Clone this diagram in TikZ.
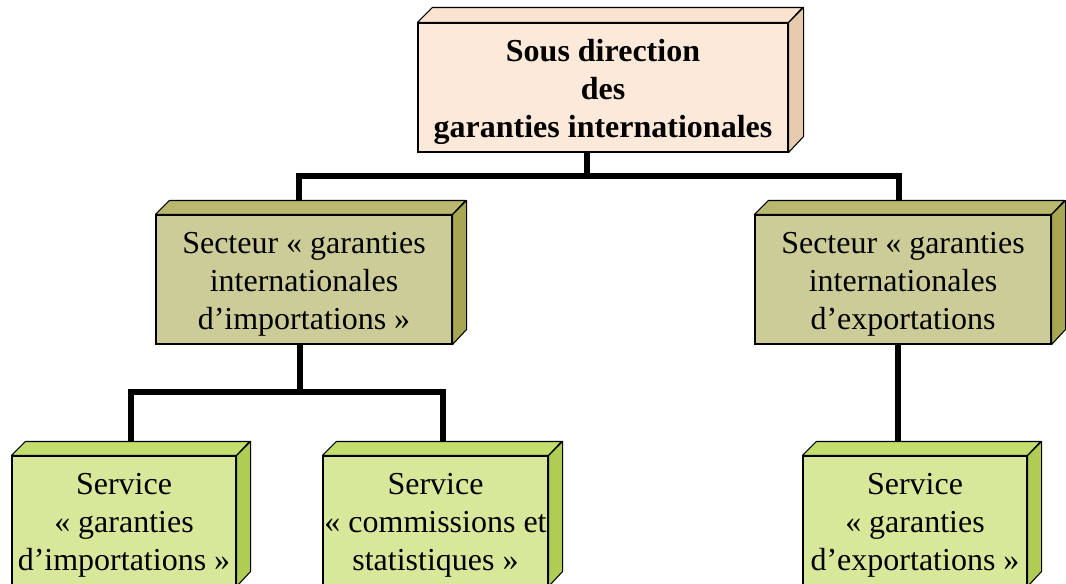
\documentclass[tikz,border=0pt]{standalone}
\usepackage{fontspec}
\setmainfont{Liberation Serif}
\usetikzlibrary{backgrounds}
\definecolor{pfront}{HTML}{FDE9D9}
\definecolor{ptop}{HTML}{FBE3D0}
\definecolor{pside}{HTML}{E7CBAE}
\definecolor{ofront}{HTML}{CCCC99}
\definecolor{otop}{HTML}{B8B86F}
\definecolor{oside}{HTML}{A6A653}
\definecolor{gfront}{HTML}{D7E89B}
\definecolor{gtop}{HTML}{C3DE6E}
\definecolor{gside}{HTML}{B1CC55}
\tikzset{
  boxfront/.style={draw=black, line width=0.8pt, rectangle, inner sep=0pt},
  boxtext/.style={inner sep=0pt, align=center, font={\fontsize{24}{28.5}\selectfont}},
  face/.style={draw=black, line width=0.8pt, line join=round},
  conn/.style={draw=black, line width=3.8pt, line join=miter, line cap=butt}
}
% name, x1, y1, x2, y2, depth, colour prefix, text
\newcommand\threedbox[8]{%
  \node[boxfront, fill=#7front, minimum width={(#4-#2)*0.75pt}, minimum height={(#5-#3)*0.75pt}]
    (#1) at ({(#2+#4)/2},{(#3+#5)/2}) {};
  \filldraw[face, fill=#7top] (#1.north west) -- ++(#6,-#6) -- ++(#4-#2,0) -- (#1.north east) -- cycle;
  \filldraw[face, fill=#7side] (#1.north east) -- ++(#6,-#6) -- ++(0,#5-#3) -- (#1.south east) -- cycle;
  \node[boxtext] (#1-text) at ([yshift=-3.5pt]#1.center) {#8};
}
\begin{document}
\begin{tikzpicture}[x=0.75pt, y=-0.75pt]
\useasboundingbox (0,0) rectangle (1066,583);
\clip (0,0) rectangle (1066,583);

\threedbox{top}{418}{23}{788}{152}{15}{p}{\bfseries Sous direction\\ \bfseries des\\ \bfseries garanties internationales}
\threedbox{ml}{156}{215}{452}{344}{14}{o}{Secteur « garanties\\ internationales\\ d’importations »}
\threedbox{mr}{755}{215}{1051}{344}{14}{o}{Secteur « garanties\\ internationales\\ d’exportations}
\threedbox{bl}{12}{456}{236}{586}{14}{g}{Service\\ « garanties\\ d’importations »}
\threedbox{bm}{323}{456}{548}{586}{14}{g}{Service\\ « commissions et\\ statistiques »}
\threedbox{br}{803}{456}{1027}{586}{14}{g}{Service\\ « garanties\\ d’exportations »}

\coordinate (j0) at (587,176);
\coordinate (jl) at (299,176);
\coordinate (jr) at (899,176);
\coordinate (k0) at (300,392);
\coordinate (kl) at (131,392);
\coordinate (kr) at (443,392);
\coordinate (m0) at (898,392);

\begin{pgfonlayer}{background}
\draw[conn] (top.south -| j0) -- (j0);
\draw[conn] (ml.north -| jl) -- (jl) -- (jr) -- (mr.north -| jr);
\draw[conn] (ml.south -| k0) -- (k0);
\draw[conn] (bl.north -| kl) -- (kl) -- (kr) -- (bm.north -| kr);
\draw[conn] (mr.south -| m0) -- (br.north -| m0);
\end{pgfonlayer}
\end{tikzpicture}
\end{document}
